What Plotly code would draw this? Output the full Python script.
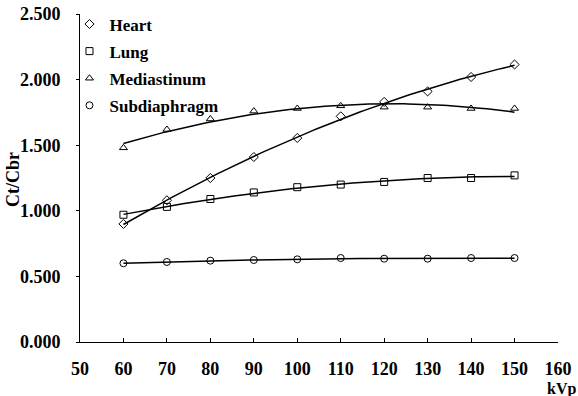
import numpy as np
import plotly.graph_objects as go

kvp = [60, 70, 80, 90, 100, 110, 120, 130, 140, 150]
heart = [0.90, 1.08, 1.25, 1.41, 1.555, 1.72, 1.83, 1.91, 2.02, 2.115]
lung = [0.97, 1.03, 1.09, 1.14, 1.18, 1.20, 1.22, 1.25, 1.25, 1.27]
mediastinum = [1.48, 1.62, 1.70, 1.76, 1.78, 1.80, 1.79, 1.79, 1.78, 1.78]
subdiaphragm = [0.60, 0.61, 0.62, 0.625, 0.63, 0.64, 0.635, 0.635, 0.64, 0.64]

series = [
    ("Heart", heart, "diamond-open"),
    ("Lung", lung, "square-open"),
    ("Mediastinum", mediastinum, "triangle-up-open"),
    ("Subdiaphragm", subdiaphragm, "circle-open"),
]

FONT = "Liberation Serif, Times New Roman, serif"

fig = go.Figure()
xs = np.linspace(min(kvp), max(kvp), 100)
for name, vals, sym in series:
    coef = np.polyfit(kvp, vals, 2)
    fig.add_trace(go.Scatter(x=xs, y=np.polyval(coef, xs), mode="lines",
                             line=dict(color="black", width=1.5),
                             showlegend=False, hoverinfo="skip"))
for name, vals, sym in series:
    fig.add_trace(go.Scatter(x=kvp, y=vals, mode="markers", name=name,
                             legendgroup=name,
                             marker=dict(symbol=sym, size=7, color="black",
                                         line=dict(color="black", width=1))))

fig.update_layout(
    width=578, height=396,
    margin=dict(l=80, r=20, t=14, b=54, autoexpand=False),
    paper_bgcolor="white", plot_bgcolor="white",
    font=dict(family=FONT, size=18, color="black", weight="bold"),
    showlegend=True,
    legend=dict(x=-0.022, y=1.023, xanchor="left", yanchor="top",
                bgcolor="rgba(0,0,0,0)", font=dict(size=17, family=FONT, weight="bold"),
                tracegroupgap=2, itemwidth=30),
    xaxis=dict(range=[50, 160], tickvals=list(range(50, 161, 10)),
               showgrid=False, zeroline=False, showline=True,
               linecolor="black", linewidth=1,
               ticks="inside", ticklen=4, tickcolor="black",
               ticklabelstandoff=10, automargin=False,
               tickfont=dict(family=FONT, size=18, weight="bold")),
    yaxis=dict(range=[0, 2.5], tickvals=[0, 0.5, 1.0, 1.5, 2.0, 2.5],
               ticktext=["0.000", "0.500", "1.000", "1.500", "2.000", "2.500"],
               showgrid=False, zeroline=False, showline=True,
               linecolor="black", linewidth=1,
               ticks="outside", ticklen=3, tickcolor="black",
               ticklabelstandoff=12, automargin=False,
               tickfont=dict(family=FONT, size=18, weight="bold")),
    annotations=[
        dict(text="kVp", xref="paper", yref="paper",
             x=(561 - 80) / 478, y=(342 - 389) / 328,
             xanchor="center", yanchor="middle", showarrow=False,
             font=dict(family=FONT, size=16, weight="bold")),
        dict(text="Ct/Cbr", xref="paper", yref="paper",
             x=(13 - 80) / 478, y=(342 - 180) / 328, textangle=-90,
             xanchor="center", yanchor="middle", showarrow=False,
             font=dict(family=FONT, size=18, weight="bold")),
    ],
)

fig.write_html("out.html")
